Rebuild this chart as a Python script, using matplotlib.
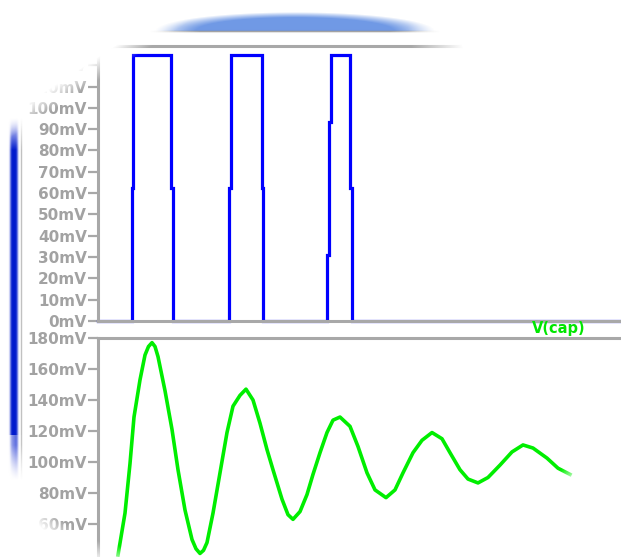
import numpy as np
import matplotlib
matplotlib.use("Agg")
import matplotlib.pyplot as plt

# top pane: pulse trace, time in us, value in mV
pulse_t = [0.0, 0.68, 0.68, 0.70, 0.70, 1.46, 1.46, 1.50, 1.50,
           2.62, 2.62, 2.66, 2.66, 3.28, 3.28, 3.30, 3.30,
           4.58, 4.58, 4.62, 4.62, 4.66, 4.66, 5.04, 5.04, 5.08, 5.08, 10.5]
pulse_mv = [0, 0, 62.5, 62.5, 125, 125, 62.5, 62.5, 0,
            0, 62.5, 62.5, 125, 125, 62.5, 62.5, 0,
            0, 31, 31, 93.5, 93.5, 125, 125, 62.5, 62.5, 0, 0]

# bottom pane: V(cap)
cap_t = [0.40, 0.54, 0.64, 0.72, 0.84, 0.94, 1.01, 1.08, 1.14, 1.20, 1.34, 1.48,
         1.60, 1.74, 1.88, 1.96, 2.04, 2.11, 2.18, 2.30, 2.44, 2.58, 2.70, 2.84,
         2.96, 3.10, 3.24, 3.38, 3.50, 3.68, 3.80, 3.90, 4.04, 4.18, 4.30, 4.44,
         4.58, 4.70, 4.84, 5.04, 5.20, 5.38, 5.54, 5.76, 5.94, 6.10, 6.30, 6.48,
         6.68, 6.88, 7.04, 7.24, 7.40, 7.60, 7.80, 8.04, 8.28, 8.50, 8.70, 8.98,
         9.20, 9.44]
cap_mv = [40, 67, 99, 129, 153, 169, 174.5, 177, 174.5, 168, 146, 121,
          95, 69, 50, 44, 41, 43, 48, 67, 93, 119, 136, 143,
          147, 140, 125, 108, 95, 76, 66, 63, 68, 79, 92, 106,
          119, 127, 129, 123, 110, 93, 82, 77, 82, 93, 106, 114,
          119, 115, 106, 95, 89, 86.5, 90, 98, 106.5, 111, 109, 102.5,
          96, 92]

top_ticks = list(range(0, 130, 10))
bot_ticks = list(range(60, 200, 20))

W, H = 621, 557
grey = '#a8a8a8'
label_grey = '#a2a2a2'

fig = plt.figure(figsize=(W / 100, H / 100), dpi=100)

# background decoration (blue bar on the left, blue dome on top)
bg = fig.add_axes([0, 0, 1, 1], zorder=0)
bg.set_xlim(0, W)
bg.set_ylim(H, 0)
bg.axis('off')

yy, xx = np.mgrid[0:H, 0:W] + 0.5


def ramp(v, a, b):
    return np.clip((v - a) / (b - a), 0, 1)


def layer(ax, rgb, alpha):
    img = np.zeros((H, W, 4))
    img[..., :3] = rgb
    img[..., 3] = alpha
    ax.imshow(img, extent=(0, W, H, 0), interpolation='bilinear', aspect='auto')


yfade = ramp(yy, 118, 150) * ramp(-yy, -480, -445)
layer(bg, (0.0, 0.1, 0.8), np.exp(-((xx - 14) / 4.0) ** 4) * yfade)
layer(bg, (0.6, 0.6, 0.6), 0.6 * np.exp(-((xx - 21.5) / 0.8) ** 2) * yfade)

e = ((xx - 295) / 140) ** 2 + ((yy - 31) / 19) ** 2
layer(bg, (0.44, 0.6, 0.9), ramp(-e, -1.0, -0.5) * (yy < 31))
xfade = ramp(xx, 150, 200) * ramp(-xx, -440, -390)
layer(bg, (0.55, 0.55, 0.55), 0.8 * np.exp(-((yy - 31.5) / 0.9) ** 2) * xfade)

# top pane
ax1 = fig.add_axes([98 / W, (H - 321) / H, (W - 98) / W, (321 - 46) / H], zorder=1)
ax1.patch.set_alpha(0)
ax1.plot(pulse_t, pulse_mv, color='#0000ff', lw=2.3, clip_on=False,
         solid_joinstyle='miter')
ax1.set_xlim(0, 10.46)
ax1.set_ylim(0, 129)
ax1.set_yticks(top_ticks)
ax1.set_yticklabels([f'{v}mV' for v in top_ticks])

# bottom pane
ax2 = fig.add_axes([98 / W, 0, (W - 98) / W, (H - 338) / H], zorder=1)
ax2.patch.set_alpha(0)
ax2.plot(cap_t, cap_mv, color='#00ee00', lw=2.6, solid_joinstyle='round')
ax2.set_xlim(0, 10.46)
ax2.set_ylim(180 - (H - 338) / 1.55, 180)
ax2.set_yticks(bot_ticks)
ax2.set_yticklabels([f'{v}mV' for v in bot_ticks])

for ax in (ax1, ax2):
    ax.set_xticks([])
    ax.spines['right'].set_visible(False)
    for s in ('left', 'top', 'bottom'):
        ax.spines[s].set_color(grey)
        ax.spines[s].set_linewidth(2.2)
    ax.tick_params(axis='y', length=7.5, width=1.6, color=grey, pad=0.5,
                   labelcolor=label_grey, labelsize=11)
    for lab in ax.get_yticklabels():
        lab.set_fontweight('bold')
ax2.spines['bottom'].set_visible(False)

fig.text(559 / W, 1 - 329 / H, 'V(cap)', color='#00e600', fontsize=10.5,
         fontweight='bold', ha='center', va='center', zorder=3)

# white vignette on the corners
ov = fig.add_axes([0, 0, 1, 1], zorder=5)
ov.set_xlim(0, W)
ov.set_ylim(H, 0)
ov.axis('off')
s = (xx - 25) * -0.545 + (yy - 107) * -0.838
tl = ramp(s, -18, 2)
tr = ramp(-np.hypot(xx - W, yy), -215, -165)
corner = (xx < 135) & (yy > 435)
bl = ramp(np.where(corner, np.hypot(xx - 135, yy - 435) - 124, -100), -12, 8)
br = ramp(-np.hypot(xx - 650, yy - 580), -142, -124)
layer(ov, (1, 1, 1), np.maximum.reduce([tl, tr, bl, br]))

fig.savefig('out.png', dpi=100)
